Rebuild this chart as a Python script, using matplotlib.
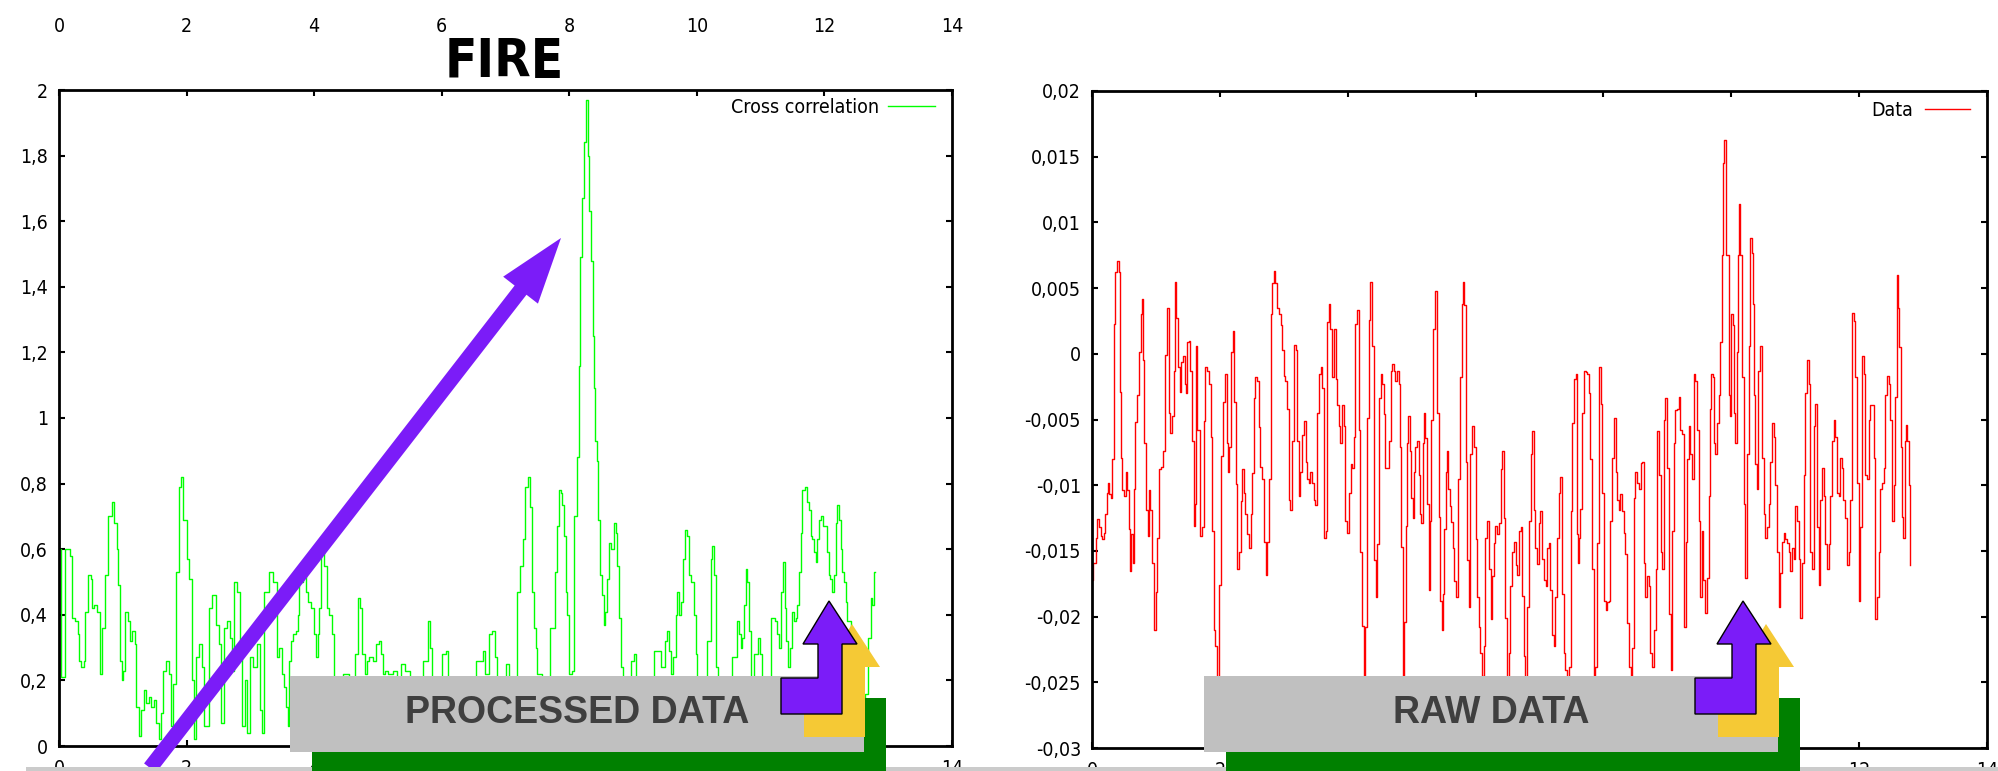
import numpy as np
import matplotlib
matplotlib.use('Agg')
import matplotlib.pyplot as plt
import matplotlib.ticker as ticker
from matplotlib.patches import Polygon, Rectangle, FancyArrow
from matplotlib import font_manager

# cross correlation (left panel)
corr_t = [0.00, 0.05, 0.15, 0.19, 0.22, 0.28, 0.31, 0.33, 0.37, 0.40, 0.43, 0.48, 0.51, 0.54, 0.57, 0.61,
          0.66, 0.69, 0.75, 0.80, 0.85, 0.89, 0.92, 0.94, 0.97, 0.99, 1.02, 1.06, 1.09, 1.13, 1.17, 1.20,
          1.23, 1.27, 1.31, 1.35, 1.39, 1.43, 1.47, 1.50, 1.54, 1.58, 1.61, 1.66, 1.70, 1.74, 1.77, 1.82,
          1.86, 1.91, 1.93, 1.97, 2.03, 2.06, 2.11, 2.13, 2.17, 2.22, 2.25, 2.31, 2.38, 2.43, 2.49, 2.52,
          2.55, 2.61, 2.65, 2.71, 2.73, 2.77, 2.81, 2.85, 2.88, 2.94, 2.97, 3.02, 3.07, 3.13, 3.18, 3.20,
          3.24, 3.33, 3.39, 3.43, 3.46, 3.52, 3.54, 3.57, 3.60, 3.62, 3.65, 3.70, 3.73, 3.75, 3.79, 3.86,
          3.89, 3.93, 3.98, 4.01, 4.04, 4.07, 4.09, 4.13, 4.17, 4.22, 4.26, 4.29, 4.33, 4.40, 4.51, 4.59,
          4.68, 4.71, 4.74, 4.77, 4.81, 4.85, 4.88, 4.95, 5.00, 5.03, 5.06, 5.09, 5.14, 5.19, 5.27, 5.32,
          5.40, 5.44, 5.55, 5.66, 5.76, 5.80, 5.84, 5.87, 5.97, 6.05, 6.08, 6.13, 6.28, 6.44, 6.62, 6.66,
          6.70, 6.77, 6.81, 6.85, 6.89, 6.97, 7.04, 7.07, 7.15, 7.22, 7.25, 7.29, 7.33, 7.36, 7.40, 7.42,
          7.46, 7.49, 7.51, 7.62, 7.76, 7.80, 7.83, 7.85, 7.88, 7.90, 7.93, 7.96, 7.98, 8.01, 8.06, 8.10,
          8.14, 8.16, 8.19, 8.22, 8.24, 8.28, 8.30, 8.32, 8.36, 8.39, 8.40, 8.42, 8.44, 8.46, 8.49, 8.53,
          8.55, 8.57, 8.61, 8.64, 8.67, 8.72, 8.74, 8.77, 8.80, 8.82, 8.85, 8.92, 9.00, 9.03, 9.05, 9.24,
          9.42, 9.47, 9.52, 9.55, 9.58, 9.60, 9.66, 9.68, 9.71, 9.73, 9.76, 9.80, 9.84, 9.86, 9.89, 9.94,
          9.97, 10.00, 10.02, 10.13, 10.20, 10.23, 10.25, 10.29, 10.32, 10.34, 10.49, 10.61, 10.65, 10.67,
          10.70, 10.73, 10.75, 10.78, 10.80, 10.83, 10.86, 10.93, 10.98, 11.01, 11.03, 11.12, 11.20, 11.24,
          11.27, 11.30, 11.33, 11.36, 11.39, 11.42, 11.45, 11.47, 11.50, 11.54, 11.56, 11.59, 11.61, 11.64,
          11.67, 11.71, 11.74, 11.77, 11.80, 11.82, 11.85, 11.88, 11.90, 11.93, 11.96, 12.00, 12.03, 12.06,
          12.08, 12.11, 12.14, 12.16, 12.19, 12.21, 12.24, 12.27, 12.29, 12.32, 12.35, 12.37, 12.45, 12.53,
          12.61, 12.66, 12.71, 12.74, 12.76, 12.80]
corr_v = [0.60, 0.21, 0.60, 0.58, 0.39, 0.38, 0.34, 0.26, 0.24, 0.26, 0.41, 0.52, 0.51, 0.42, 0.43, 0.41,
          0.22, 0.36, 0.52, 0.70, 0.745, 0.68, 0.60, 0.49, 0.26, 0.20, 0.23, 0.41, 0.38, 0.32, 0.35, 0.31,
          0.12, 0.03, 0.11, 0.17, 0.13, 0.15, 0.12, 0.14, 0.07, 0.02, 0.10, 0.23, 0.26, 0.22, 0.06, 0.19,
          0.53, 0.79, 0.82, 0.69, 0.57, 0.51, 0.20, 0.02, 0.27, 0.31, 0.24, 0.06, 0.42, 0.46, 0.37, 0.31,
          0.07, 0.36, 0.38, 0.33, 0.23, 0.50, 0.47, 0.28, 0.06, 0.20, 0.04, 0.27, 0.24, 0.31, 0.11, 0.04,
          0.47, 0.53, 0.50, 0.27, 0.30, 0.22, 0.18, 0.12, 0.06, 0.26, 0.32, 0.34, 0.35, 0.40, 0.50, 0.53,
          0.47, 0.44, 0.42, 0.34, 0.27, 0.34, 0.42, 0.59, 0.55, 0.42, 0.40, 0.34, 0.21, 0.12, 0.22, 0.10,
          0.28, 0.45, 0.42, 0.28, 0.22, 0.26, 0.27, 0.26, 0.31, 0.32, 0.28, 0.22, 0.23, 0.22, 0.23, 0.21,
          0.25, 0.23, 0.10, 0.14, 0.26, 0.38, 0.30, 0.21, 0.12, 0.28, 0.29, 0.21, 0.10, 0.15, 0.26, 0.29,
          0.22, 0.34, 0.35, 0.27, 0.21, 0.10, 0.25, 0.21, 0.10, 0.47, 0.55, 0.63, 0.79, 0.82, 0.73, 0.47,
          0.36, 0.30, 0.22, 0.08, 0.36, 0.53, 0.67, 0.78, 0.77, 0.735, 0.64, 0.47, 0.40, 0.22, 0.23, 0.70,
          0.88, 1.16, 1.49, 1.67, 1.84, 1.97, 1.80, 1.63, 1.48, 1.25, 1.09, 0.93, 0.87, 0.69, 0.52, 0.46,
          0.37, 0.41, 0.51, 0.62, 0.60, 0.68, 0.65, 0.55, 0.39, 0.24, 0.21, 0.10, 0.26, 0.28, 0.21, 0.08,
          0.29, 0.24, 0.32, 0.35, 0.29, 0.22, 0.27, 0.40, 0.47, 0.40, 0.44, 0.57, 0.66, 0.64, 0.52, 0.50,
          0.40, 0.28, 0.21, 0.10, 0.32, 0.57, 0.61, 0.52, 0.24, 0.21, 0.10, 0.27, 0.38, 0.34,
          0.30, 0.33, 0.43, 0.54, 0.50, 0.35, 0.21, 0.28, 0.33, 0.28, 0.21, 0.10, 0.39, 0.38,
          0.34, 0.30, 0.47, 0.56, 0.42, 0.32, 0.24, 0.30, 0.41, 0.38, 0.39, 0.43, 0.53, 0.65,
          0.78, 0.79, 0.745, 0.72, 0.64, 0.63, 0.59, 0.56, 0.63, 0.69, 0.70, 0.67, 0.67, 0.59,
          0.52, 0.51, 0.47, 0.52, 0.68, 0.735, 0.69, 0.60, 0.53, 0.50, 0.44, 0.38, 0.30, 0.22,
          0.10, 0.16, 0.33, 0.45, 0.43, 0.53]

# raw data (right panel), values in units of 1e-3
raw_t = [0.00, 0.02, 0.05, 0.07, 0.09, 0.12, 0.15, 0.17, 0.20, 0.22, 0.24, 0.26, 0.28, 0.30, 0.33, 0.35,
         0.38, 0.41, 0.43, 0.45, 0.46, 0.48, 0.51, 0.54, 0.56, 0.59, 0.60, 0.63, 0.64, 0.67, 0.69, 0.72,
         0.75, 0.77, 0.80, 0.81, 0.83, 0.86, 0.88, 0.90, 0.93, 0.95, 0.98, 1.01, 1.03, 1.06, 1.09, 1.13,
         1.15, 1.19, 1.21, 1.24, 1.27, 1.29, 1.31, 1.33, 1.36, 1.39, 1.41, 1.44, 1.46, 1.48, 1.50, 1.53,
         1.55, 1.58, 1.60, 1.62, 1.64, 1.66, 1.68, 1.71, 1.74, 1.76, 1.79, 1.81, 1.84, 1.87, 1.89, 1.92,
         1.94, 1.97, 2.01, 2.03, 2.06, 2.09, 2.12, 2.14, 2.16, 2.19, 2.21, 2.23, 2.26, 2.28, 2.31, 2.34,
         2.36, 2.39, 2.41, 2.44, 2.47, 2.49, 2.52, 2.54, 2.57, 2.60, 2.62, 2.65, 2.67, 2.70, 2.73, 2.75,
         2.78, 2.81, 2.83, 2.86, 2.88, 2.91, 2.94, 2.96, 2.99, 3.01, 3.04, 3.07, 3.09, 3.12, 3.14, 3.17,
         3.20, 3.22, 3.25, 3.27, 3.30, 3.33, 3.35, 3.38, 3.40, 3.43, 3.46, 3.48, 3.51, 3.53, 3.56, 3.59,
         3.61, 3.64, 3.67, 3.69, 3.72, 3.74, 3.77, 3.80, 3.82, 3.85, 3.87, 3.90, 3.93, 3.95, 3.98, 4.00,
         4.03, 4.06, 4.08, 4.11, 4.13, 4.16, 4.19, 4.21, 4.24, 4.26, 4.29, 4.32, 4.34, 4.37, 4.40, 4.42,
         4.45, 4.47, 4.50, 4.53, 4.55, 4.58, 4.60, 4.63, 4.66, 4.68, 4.71,
         4.73, 4.76, 4.79, 4.81, 4.83, 4.85, 4.87, 4.90, 4.92, 4.94, 4.96, 4.98, 5.01, 5.03, 5.05, 5.07,
         5.10, 5.13, 5.14, 5.16, 5.18, 5.20, 5.23, 5.26, 5.28, 5.30, 5.32, 5.35, 5.37, 5.39, 5.41, 5.44,
         5.46, 5.48, 5.50, 5.52, 5.54, 5.56, 5.58, 5.61, 5.63, 5.66, 5.68, 5.71, 5.74, 5.77, 5.79, 5.81,
         5.84, 5.86, 5.88, 5.91, 5.93, 5.96, 5.99, 6.01, 6.04, 6.06, 6.09, 6.12, 6.14, 6.17, 6.19, 6.22,
         6.25, 6.27, 6.30, 6.32, 6.35, 6.38, 6.40, 6.43, 6.45, 6.48, 6.51, 6.53, 6.56, 6.59, 6.61, 6.64,
         6.66, 6.69, 6.72, 6.74, 6.77, 6.79, 6.82, 6.85, 6.87, 6.90, 6.92, 6.95, 6.98, 7.00, 7.03, 7.05,
         7.08, 7.11, 7.13, 7.16, 7.18, 7.21, 7.24, 7.26, 7.29, 7.31, 7.34, 7.37, 7.39, 7.42, 7.45, 7.47,
         7.50, 7.52, 7.55, 7.58, 7.59, 7.61, 7.63, 7.65, 7.68, 7.71, 7.73, 7.76, 7.78, 7.81, 7.84, 7.86,
         7.89, 7.91, 7.94, 7.97, 7.99, 8.02, 8.05, 8.07, 8.10, 8.12, 8.15, 8.18, 8.20, 8.23, 8.25, 8.28,
         8.31, 8.33, 8.36, 8.38, 8.41, 8.44, 8.46, 8.49, 8.51, 8.54, 8.57, 8.59, 8.62, 8.64, 8.67, 8.70,
         8.72, 8.75, 8.78, 8.80, 8.83, 8.85, 8.88, 8.91, 8.93, 8.96, 8.98, 9.01, 9.04, 9.06, 9.09, 9.11,
         9.14, 9.17, 9.19, 9.22, 9.24, 9.27, 9.30, 9.32, 9.35, 9.37, 9.40,
         9.42, 9.45, 9.48, 9.50, 9.53, 9.55, 9.58, 9.61, 9.63, 9.66, 9.68, 9.70, 9.72, 9.74, 9.76, 9.79,
         9.82, 9.84, 9.86, 9.88, 9.90, 9.92, 9.95, 9.97, 9.99, 10.01, 10.03, 10.05, 10.08, 10.10, 10.12,
         10.13, 10.15, 10.18, 10.21, 10.23, 10.26, 10.28, 10.31, 10.33, 10.34, 10.36, 10.39, 10.41, 10.44,
         10.47, 10.49, 10.52, 10.55, 10.57, 10.60, 10.62, 10.65, 10.68, 10.70, 10.73, 10.75, 10.78, 10.81,
         10.83, 10.86, 10.88, 10.91, 10.94, 10.96, 10.99, 11.01, 11.04, 11.07, 11.09, 11.12, 11.14, 11.17,
         11.20, 11.22, 11.25, 11.28, 11.30, 11.33, 11.35, 11.38, 11.41, 11.43, 11.46, 11.48, 11.51, 11.54,
         11.56, 11.59, 11.61, 11.64, 11.67, 11.69, 11.72, 11.74, 11.77, 11.80, 11.82, 11.85, 11.87, 11.90,
         11.93, 11.95, 11.98, 12.01, 12.03, 12.06, 12.08, 12.11, 12.14, 12.16, 12.19, 12.21, 12.24, 12.27,
         12.29, 12.32, 12.34, 12.37, 12.40, 12.42, 12.45, 12.47, 12.50, 12.53, 12.55, 12.58, 12.60, 12.62,
         12.64, 12.66, 12.68, 12.70, 12.72, 12.74, 12.76, 12.79, 12.80]
raw_mv = [-17.2, -15.9, -15.9, -14.0, -12.6, -13.2, -13.9, -14.1, -13.6, -12.2, -10.6, -9.8, -10.7, -11.0, -8.0, 2.3,
          6.2, 7.1, 6.2, -2.9, -7.9, -10.4, -10.8, -9.0, -10.4, -13.3, -16.5, -13.7, -15.9, -10.3, -5.2, -3.1,
          0.1, 3.0, 4.2, -0.5, -6.8, -11.9, -13.9, -10.4, -11.9, -15.9, -21.0, -18.1, -14.0, -8.8, -8.6, -7.4,
          -0.1, 3.5, -4.5, -6.0, -4.7, -1.3, 5.5, 2.7, -1.0, -2.9, -0.6, -0.2, -2.3, -3.0, 0.9, 1.0,
          -1.3, -6.6, -13.1, -11.4, 0.6, -5.8, -5.8, -13.9, -13.2, -5.1, -1.0, -1.3, -2.3, -6.3, -13.5, -21.0,
          -22.2, -26.5, -17.6, -7.8, -3.7, -1.5, -6.8, -9.0, -7.1, 0.1, 1.7, -3.7, -9.9, -16.4, -15.1, -11.2,
          -8.8, -10.6, -12.2, -13.7, -14.8, -12.2, -9.1, -3.4, -1.8, -2.1, -5.6, -8.6, -9.5, -14.3, -16.8, -14.3,
          -9.5, 3.0, 5.4, 6.3, 5.4, 3.5, 3.0, 2.2, 0.3, -1.7, -2.1, -4.2, -11.1, -11.9, -6.6, 0.7,
          0.3, -6.6, -10.8, -9.0, -6.2, -5.1, -8.2, -9.5, -9.8, -9.0, -9.8, -11.1, -11.5, -4.5, -1.5, -1.0,
          -2.6, -14.0, -13.5, 2.4, 3.8, 1.9, -1.8, 1.9, -1.9, -3.9, -5.5, -6.8, -3.9, -5.5, -12.7, -13.6,
          -10.6, -8.4, -8.7, -6.3, 2.3, 3.3, -5.8, -15.1, -20.7, -26.5, -20.8, -4.9, 2.6, 5.5, 0.6, -15.7,
          -18.5, -14.5, -3.4, -1.5, -2.3, -4.6, -8.7, -8.7, -6.6, -1.3, -0.8,
          -1.3, -2.1, -1.3, -2.3, -7.1, -14.7, -26.5, -20.4, -13.1, -6.8, -4.7, -7.4, -11.0, -12.5, -9.0, -7.1,
          -6.6, -9.2, -12.2, -12.9, -6.8, -4.5, -6.4, -11.4, -18.0, -12.7, -5.0, 1.9, 4.8, 4.8, -4.5, -12.4,
          -18.8, -21.0, -18.3, -13.3, -9.0, -7.4, -10.3, -11.6, -12.8, -14.8, -17.3, -18.5, -9.5, -1.8, 3.8, 5.5,
          3.7, -8.2, -15.7, -19.3, -7.6, -5.5, -7.1, -14.1, -18.5, -20.8, -22.8, -24.5, -22.2, -14.0, -12.7, -16.4,
          -20.2, -16.9, -14.4, -13.1, -13.7, -12.9, -8.8, -7.4, -12.5, -20.1, -26.5, -22.8, -17.7, -15.1, -14.3, -16.1,
          -16.8, -13.5, -13.2, -18.4, -23.0, -26.5, -19.3, -12.7, -7.6, -5.9, -11.9, -14.8, -16.0, -12.9, -12.0, -15.6,
          -17.2, -17.7, -14.8, -14.4, -18.0, -21.4, -22.2, -18.5, -14.0, -10.6, -9.4, -18.3, -22.8, -24.1, -26.5, -23.8,
          -12.0, -5.3, -1.9, -1.5, -13.7, -15.9, -14.0, -11.8, -4.5, -1.3, -1.4, -1.5, -3.0, -8.0, -16.4, -26.5,
          -23.8, -14.4, -1.0, -3.8, -10.6, -18.8, -19.5, -18.9, -18.8, -12.7, -7.9, -4.9, -9.0, -11.1, -11.9, -10.7,
          -12.0, -13.6, -15.2, -20.5, -23.8, -26.5, -22.4, -11.0, -9.0, -9.8, -10.3, -8.3, -8.2, -15.9, -18.5, -16.9,
          -17.7, -22.8, -23.8, -21.0, -16.4, -5.9, -9.2, -15.1, -16.4, -5.0, -3.4, -8.7, -19.8, -24.1, -13.5, -6.8,
          -4.3, -4.2, -3.3, -5.8, -6.1, -20.8, -14.3, -8.0, -5.5, -7.6, -9.5,
          -1.5, -2.1, -5.8, -12.7, -18.5, -13.5, -17.2, -19.7, -17.1, -10.8, -4.2, -1.5, -1.8, -6.8, -7.6, -5.3,
          -3.1, 0.9, 7.5, 14.5, 16.3, 7.5, 7.5, -3.1, -4.7, 3.0, 2.2, -4.5, -6.8, 0.1, 7.5,
          11.4, 7.5, -1.8, -11.4, -17.1, -7.6, 0.6, 8.8, 7.7, 3.8, -3.1, -8.4, -10.3, -1.3,
          0.6, -7.9, -12.2, -14.0, -13.2, -11.4, -8.2, -5.3, -6.3, -10.0, -15.1, -19.3, -16.7, -14.3,
          -13.6, -14.1, -14.4, -15.1, -16.5, -14.8, -15.6, -11.6, -12.7, -15.6, -20.1, -15.9, -9.2, -3.0,
          -0.5, -2.3, -15.1, -16.4, -5.5, -3.8, -13.2, -17.6, -11.1, -8.7, -10.8, -14.5, -16.4, -14.5,
          -10.8, -6.6, -5.0, -6.3, -10.6, -10.8, -7.9, -8.7, -11.1, -12.5, -16.1, -15.1, -11.1, 3.1,
          2.5, -1.8, -9.8, -18.8, -13.2, -0.2, -1.5, -9.2, -9.5, -5.0, -3.9, -3.9, -7.9, -20.2,
          -18.5, -15.1, -10.3, -9.8, -8.7, -3.1, -1.7, -2.3, -5.0, -12.7, -10.0, -3.3, 6.0, 3.5,
          0.5, -7.1, -12.4, -14.0, -6.6, -5.4, -6.6, -10.0, -16.1]
raw_v = np.array(raw_mv) * 1e-3

x_ticks_step = 2
corr_label = 'Cross correlation'
raw_label = 'Data'
panel_title = 'FIRE'
box_texts = ['PROCESSED DATA', 'RAW DATA']

# fonts: narrow face for the gnuplot-like labels if there is one
fonts = font_manager.fontManager.ttflist
names = {f.name for f in fonts}
has_cond = any(f.name == 'DejaVu Sans' and str(f.stretch) in ('condensed', '500', 'semi-condensed')
               for f in fonts)
if 'Liberation Sans Narrow' in names:
    plt.rcParams['font.family'] = ['Liberation Sans Narrow', 'DejaVu Sans']
else:
    plt.rcParams['font.family'] = ['DejaVu Sans']
    if has_cond:
        plt.rcParams['font.stretch'] = 'condensed'


def comma(v, pos=None):
    s = '%g' % round(v, 5)
    if s == '-0':
        s = '0'
    return s.replace('.', ',')


def style(ax, ylo, yhi, ystep):
    ax.set_xlim(0, 14)
    ax.set_ylim(ylo, yhi)
    ax.xaxis.set_major_locator(ticker.MultipleLocator(x_ticks_step))
    ax.yaxis.set_major_locator(ticker.MultipleLocator(ystep))
    ax.xaxis.set_major_formatter(ticker.FuncFormatter(comma))
    ax.yaxis.set_major_formatter(ticker.FuncFormatter(comma))
    ax.tick_params(direction='in', length=4.5, width=1.5, top=True, right=True, labelsize=14)
    ax.tick_params(axis='x', pad=9)
    ax.tick_params(axis='y', pad=8)
    for s in ax.spines.values():
        s.set_linewidth(2)


W, H = 1999, 771
fig = plt.figure(figsize=(W / 100, H / 100), dpi=100)

ax1 = fig.add_axes([59 / W, 25 / H, 893 / W, 656 / H])
ax1.plot(corr_t, corr_v, color='#00ff00', lw=1.0, drawstyle='steps-mid', label=corr_label)
style(ax1, 0, 2, 0.2)
ax1.legend(loc='upper right', bbox_to_anchor=(1, 1.015), frameon=False, markerfirst=False,
           handlelength=2.4, handletextpad=0.45, fontsize=14)

# tick labels of the panel above, cut into this picture
sec = ax1.secondary_xaxis('top')
sec.xaxis.set_major_locator(ticker.MultipleLocator(x_ticks_step))
sec.xaxis.set_major_formatter(ticker.FuncFormatter(comma))
sec.tick_params(length=0, pad=39, labelsize=14)
sec.spines['top'].set_visible(False)

ax2 = fig.add_axes([1092 / W, 23 / H, 895 / W, 657 / H])
ax2.plot(raw_t, raw_v, color='#ff0000', lw=1.0, drawstyle='steps-mid', label=raw_label)
style(ax2, -0.03, 0.02, 0.005)
ax2.legend(loc='upper right', bbox_to_anchor=(1, 1.012), frameon=False, markerfirst=False,
           handlelength=2.3, handletextpad=0.6, fontsize=14)

fig.text(504 / W, 1 - 77 / H, panel_title, ha='center', va='baseline', fontsize=38,
         fontweight='bold', family='DejaVu Sans')

# overlay drawn in pixel coordinates
ov = fig.add_axes([0, 0, 1, 1])
ov.set_xlim(0, W)
ov.set_ylim(H, 0)
ov.axis('off')
ov.patch.set_alpha(0)

purple = '#7b1cf8'
yellow = '#f5c935'
ov.add_patch(FancyArrow(150, 768, 411, -530, width=15, head_width=44, head_length=66,
                        length_includes_head=True, color=purple, lw=0, zorder=2))
ov.add_patch(Rectangle((26, 767), W, 10, color='#cbcbcb', lw=0, zorder=3))

bent = np.array([(781, 678), (818, 678), (818, 644), (803, 644), (829, 601), (857, 644),
                 (842, 644), (842, 714), (781, 714)], dtype=float)
for off, label in zip([0, 914], box_texts):
    ov.add_patch(Rectangle((312 + off, 698), 574, 80, color='#008000', lw=0, zorder=4))
    ov.add_patch(Rectangle((290 + off, 676), 574, 76, color='#c0c0c0', lw=0, zorder=5))
    ov.text(577 + off, 723, label, ha='center', va='baseline', fontsize=27, fontweight='bold',
            color='#3f3f3f', family='Liberation Sans', fontstretch='normal', zorder=6)
    ov.add_patch(Polygon(bent + [off + 23, 23], closed=True, color=yellow, lw=0, zorder=7))
    ov.add_patch(Polygon(bent + [off, 0], closed=True, fc=purple, ec='black', lw=1, zorder=8))

fig.savefig('out.png', dpi=100)
